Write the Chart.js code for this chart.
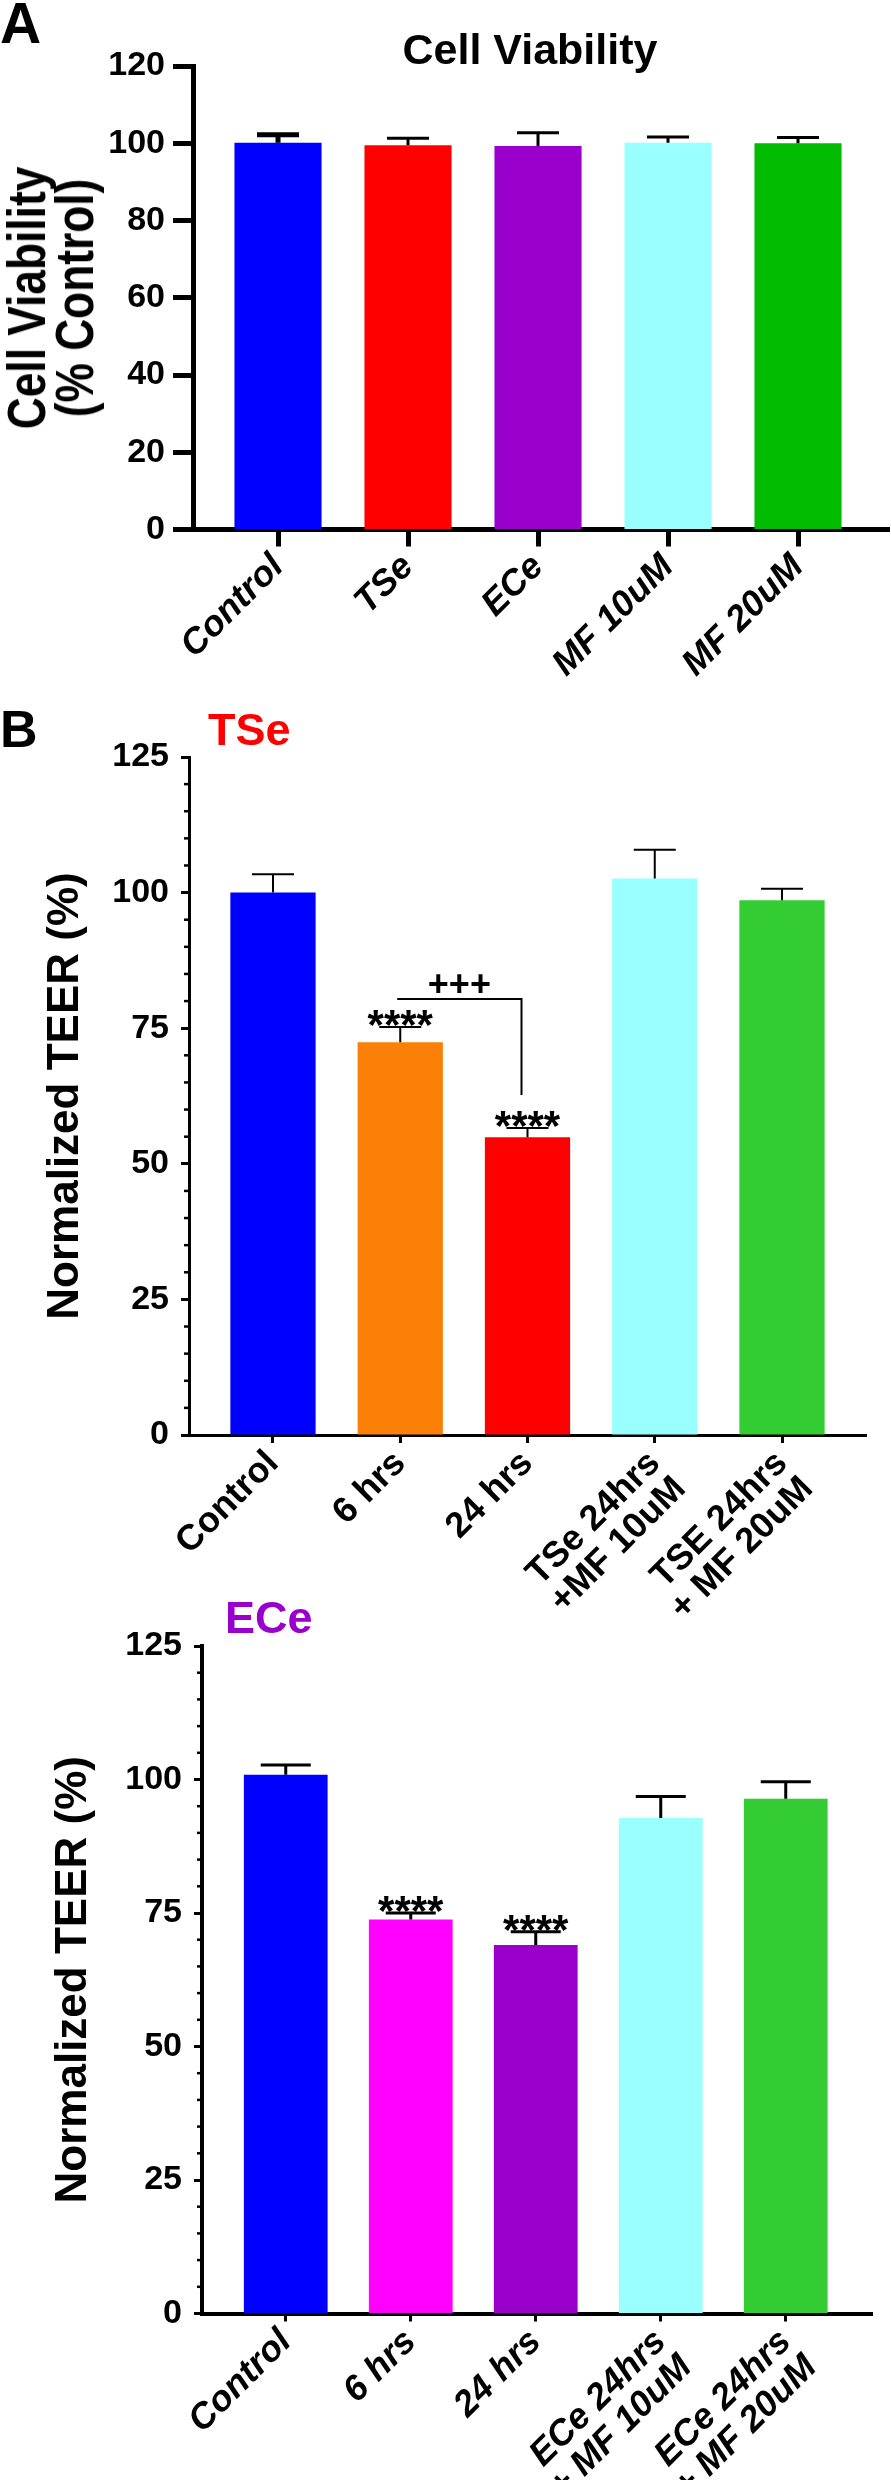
<!DOCTYPE html>
<html>
<head>
<meta charset="utf-8">
<script src="https://cdn.jsdelivr.net/npm/chart.js@4.4.1/dist/chart.umd.min.js"></script>
<style>
  body { margin: 0; background: #fff; }
  #page { position: relative; width: 891px; height: 2480px; overflow: hidden; font-family: 'Liberation Sans', Arial, sans-serif; }
  canvas { position: absolute; left: 0; }
  .txt { position: absolute; font-weight: bold; line-height: 1; white-space: nowrap; z-index: 2; }
  .ytitle { position: absolute; font-weight: bold; font-size: 54px; line-height: 48px; text-align: center; white-space: nowrap;
            transform: translate(-50%, -50%) rotate(-90deg) scaleX(0.82); z-index: 2; }
</style>
</head>
<body>
<div id="page">
  <canvas id="chartA" width="891" height="700" style="top:0px"></canvas>
  <canvas id="chartB1" width="891" height="920" style="top:700px"></canvas>
  <canvas id="chartB2" width="891" height="880" style="top:1600px"></canvas>
  <div class="txt" style="left:0px;top:-5px;font-size:57px">A</div>
  <div class="txt" style="left:0px;top:28px;width:1060px;text-align:center;font-size:43px">Cell Viability</div>
  <div class="ytitle" style="left:50px;top:298px">Cell Viability<br>(% Control)</div>
  <div class="txt" style="left:0px;top:703px;font-size:52px">B</div>
  <div class="txt" style="left:208px;top:707px;font-size:45px;color:#ff0000">TSe</div>
  <div class="txt" style="left:225px;top:1595px;font-size:45px;color:#9900cc">ECe</div>
</div>
<script>
// ---- data ----
var aLabels = ["Control", "TSe", "ECe", "MF 10uM", "MF 20uM"];
var aValues = [100.1, 99.5, 99.3, 100.1, 100.0];
var aErrors = [2.1, 1.8, 3.4, 1.5, 1.5];
var aColors = ["#0000ff", "#ff0000", "#9900cc", "#99ffff", "#00bb00"];

var b1Labels = ["Control", "6 hrs", "24 hrs", ["TSe 24hrs", "+MF 10uM"], ["TSE 24hrs", "+ MF 20uM"]];
var b1Values = [100.0, 72.4, 54.9, 102.6, 98.6];
var b1Errors = [3.4, 2.8, 1.7, 5.3, 2.1];
var b1Stars = ["", "****", "****", "", ""];
var b1Colors = ["#0000ff", "#fb8008", "#ff0000", "#99ffff", "#33cc33"];

var b2Labels = ["Control", "6 hrs", "24 hrs", ["ECe 24hrs", "+ MF 10uM"], ["ECe 24hrs", "+ MF 20uM"]];
var b2Values = [100.9, 73.8, 69.0, 92.8, 96.4];
var b2Errors = [1.8, 1.2, 2.5, 4.0, 3.2];
var b2Stars = ["", "****", "****", "", ""];
var b2Colors = ["#0000ff", "#ff00ff", "#9900cc", "#99ffff", "#33cc33"];

var FONT = "'Liberation Sans', Arial, sans-serif";

// error bars + significance marks drawn off the chart's own scales
var errorBars = {
  id: "errorBars",
  afterDatasetsDraw: function(chart, args, o) {
    var ctx = chart.ctx, ys = chart.scales.y;
    var meta = chart.getDatasetMeta(0);
    ctx.save();
    ctx.strokeStyle = "#000";
    meta.data.forEach(function(bar, i) {
      var v = chart.data.datasets[0].data[i].y;
      var top = ys.getPixelForValue(v + o.errors[i]);
      var base = ys.getPixelForValue(v);
      ctx.lineWidth = Array.isArray(o.lineWidth) ? o.lineWidth[i] : o.lineWidth;
      ctx.beginPath();
      ctx.moveTo(bar.x, base);
      ctx.lineTo(bar.x, top);
      ctx.moveTo(bar.x - o.capWidth / 2, top);
      ctx.lineTo(bar.x + o.capWidth / 2, top);
      ctx.stroke();
      if (o.stars && o.stars[i]) {
        ctx.fillStyle = "#000";
        ctx.font = "bold 42px " + FONT;
        ctx.textAlign = "center";
        ctx.textBaseline = "alphabetic";
        ctx.fillText(o.stars[i], bar.x, top + 12);
      }
    });
    if (o.bracket) {
      var xs = chart.scales.x, b = o.bracket;
      var x1 = xs.getPixelForValue(b.from) - 3, x2 = xs.getPixelForValue(b.to) - 6;
      var yTop = ys.getPixelForValue(b.at), yLeg = ys.getPixelForValue(b.leg);
      ctx.lineWidth = 2;
      ctx.beginPath();
      ctx.moveTo(x1, yTop);
      ctx.lineTo(x2, yTop);
      ctx.lineTo(x2, yLeg);
      ctx.stroke();
      ctx.font = "bold 36px " + FONT;
      ctx.textAlign = "center";
      ctx.textBaseline = "alphabetic";
      ctx.fillStyle = "#000";
      ctx.fillText(b.text, (x1 + x2) / 2, yTop - 3);
    }
    ctx.restore();
  }
};

// short minor ticks on the y axis
var minorTicks = {
  id: "minorTicks",
  afterDraw: function(chart, args, o) {
    if (!o.step) return;
    var ys = chart.scales.y, ctx = chart.ctx;
    ctx.save();
    ctx.strokeStyle = "#000";
    ctx.lineWidth = o.width;
    for (var v = ys.min; v <= ys.max; v += o.step) {
      if (v % o.major === 0) continue;
      var y = ys.getPixelForValue(v);
      ctx.beginPath();
      ctx.moveTo(ys.right - o.length, y);
      ctx.lineTo(ys.right, y);
      ctx.stroke();
    }
    ctx.restore();
  }
};

function makeChart(id, cfg) {
  return new Chart(document.getElementById(id), {
    type: "bar",
    data: {
      datasets: [{
        data: cfg.values.map(function(v, i) { return { x: i, y: v }; }),
        backgroundColor: cfg.colors,
        borderWidth: 0,
        barPercentage: 0.67,
        categoryPercentage: 1
      }]
    },
    plugins: [errorBars, minorTicks],
    options: {
      responsive: false,
      animation: false,
      devicePixelRatio: 1,
      layout: { padding: cfg.padding },
      plugins: {
        legend: { display: false },
        tooltip: { enabled: false },
        errorBars: cfg.err,
        minorTicks: cfg.minor || {}
      },
      scales: {
        x: {
          type: "linear",
          offset: false,
          min: cfg.xMin, max: cfg.xMax,
          afterBuildTicks: function(s) { s.ticks = cfg.labels.map(function(_, i) { return { value: i }; }); },
          afterFit: function(s) { s.height = cfg.xHeight; },
          ticks: {
            autoSkip: false, minRotation: 45, maxRotation: 45,
            padding: cfg.xPad, color: "#000",
            font: { family: FONT, size: 36, weight: "bold", style: cfg.italic ? "italic" : "normal", lineHeight: 1.0 },
            callback: function(v, i) { return cfg.labels[i]; }
          },
          grid: { offset: false, drawOnChartArea: false, drawTicks: true, tickLength: cfg.xTick, tickWidth: cfg.tickW, tickColor: "#000" },
          border: { display: true, width: cfg.axisW, color: "#000" }
        },
        y: {
          min: 0, max: cfg.yMax,
          afterFit: function(s) { s.width = cfg.yWidth; },
          ticks: { stepSize: cfg.yStep, padding: cfg.yPad, color: "#000", font: { family: FONT, size: cfg.yFont, weight: "bold" } },
          grid: { drawOnChartArea: false, drawTicks: true, tickLength: cfg.yTick, tickWidth: cfg.tickW, tickColor: "#000" },
          border: { display: true, width: cfg.axisW, color: "#000" },
          title: {
            display: !!cfg.yTitle, text: cfg.yTitle || "", color: "#000",
            padding: { top: cfg.titlePad || 0, bottom: 0 },
            font: { family: FONT, size: 44, weight: "bold", lineHeight: 1.0 }
          }
        }
      }
    }
  });
}

makeChart("chartA", {
  values: aValues, colors: aColors, labels: aLabels, italic: true,
  padding: { left: 0, right: 2, top: 66, bottom: 0 },
  xMin: -0.654, xMax: 4.7, xHeight: 170.5, xPad: 2, xTick: 17,
  yMax: 120, yStep: 20, yWidth: 193, yPad: 8, yTick: 20, yFont: 34,
  tickW: 5, axisW: 5,
  err: { errors: aErrors, capWidth: 42, lineWidth: [5, 3, 3, 3, 3] }
});

makeChart("chartB1", {
  values: b1Values, colors: b1Colors, labels: b1Labels, italic: false,
  padding: { left: 0, right: 25, top: 57, bottom: 0 },
  xMin: -0.66, xMax: 4.66, xHeight: 185, xPad: 2, xTick: 8,
  yMax: 125, yStep: 25, yWidth: 189, yPad: 12, yTick: 8, yFont: 34,
  tickW: 3, axisW: 3, titlePad: 44,
  yTitle: "Normalized TEER (%)",
  err: { errors: b1Errors, capWidth: 42, lineWidth: 2, stars: b1Stars,
         bracket: { from: 1, to: 2, at: 80.4, leg: 62.7, text: "+++" } },
  minor: { step: 5, major: 25, length: 5, width: 2.5 }
});

makeChart("chartB2", {
  values: b2Values, colors: b2Colors, labels: b2Labels, italic: true,
  padding: { left: 0, right: 19, top: 46, bottom: 0 },
  xMin: -0.67, xMax: 4.69, xHeight: 166.5, xPad: 2, xTick: 8,
  yMax: 125, yStep: 25, yWidth: 202, yPad: 12, yTick: 8, yFont: 34,
  tickW: 3, axisW: 4, titlePad: 52,
  yTitle: "Normalized TEER (%)",
  err: { errors: b2Errors, capWidth: 50, lineWidth: 3, stars: b2Stars },
  minor: { step: 5, major: 25, length: 5, width: 2.5 }
});
</script>
</body>
</html>
